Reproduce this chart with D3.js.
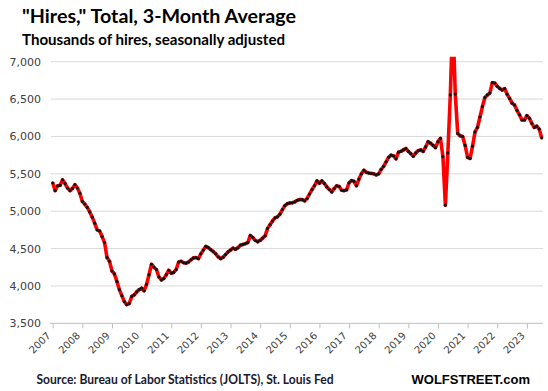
<!DOCTYPE html>
<html><head><meta charset="utf-8">
<script src="https://cdn.jsdelivr.net/npm/d3@7"></script>
<style>body{margin:0;background:#fff}svg{display:block}</style>
</head><body>
<svg id="c" width="548" height="391"></svg>
<script>
const titleText = '"Hires," Total, 3-Month Average';
const subtitleText = 'Thousands of hires, seasonally adjusted';
const sourceText = 'Source: Bureau of Labor Statistics (JOLTS), St. Louis Fed';
const brandText = 'WOLFSTREET.com';

const startMonth = new Date(2007, 0, 1);
const endMonth = new Date(2023, 6, 1);
const months = d3.timeMonth.range(startMonth, d3.timeMonth.offset(endMonth, 1));

const hires = [
5380,5275,5340,5345,5420,5370,5310,5275,5305,5355,
5310,5240,5130,5095,5050,4990,4920,4840,4750,4735,
4660,4580,4380,4330,4200,4160,4060,3950,3870,3790,
3750,3765,3860,3880,3920,3950,3970,3935,
4020,4150,4290,4250,4220,4120,4080,4100,4150,4210,
4170,4180,4220,4320,4330,4310,4305,4320,4350,4375,
4380,4365,4430,4480,4530,4512,4485,4460,4430,4390,
4365,4385,4420,4455,4480,4505,4490,4510,4545,
4555,4565,4580,4675,4650,4610,4590,4610,4640,4670,
4770,4820,4870,4910,4925,4960,5020,5075,5100,5110,
5112,5124,5145,5156,5155,5138,5170,5230,5290,5340,
5405,5375,5405,5370,5325,5290,5258,
5305,5340,5330,5280,5275,5285,5380,5410,5400,5340,
5430,5500,5548,5520,5510,5505,5500,5485,5500,5560,
5600,5660,5720,5750,5740,5700,5790,5800,5820,5839,
5800,5770,5735,5780,5810,5820,5800,5860,5930,5910,
5880,5850,5930,5975,
5730,5080,5780,6555,7600,6567,6040,6008,6000,5880,
5720,5705,5870,6060,6120,6260,6400,6520,6555,6580,
6719,6715,6670,6643,6621,6640,6565,6509,6445,6420,
6350,6290,6220,6219,6280,6245,6175,6120,6138,6098,
5980
];

const yTicks = [3500,4000,4500,5000,5500,6000,6500,7000];
const yearLabels = [2007,2008,2009,2010,2011,2012,2013,2014,2015,2016,2017,2018,2019,2020,2021,2022,2023];

const data = months.map((m,i)=>({m, v: hires[i]}));

const svg = d3.select('#c');
const plotL = 51, plotR = 543, plotT = 61.7, plotB = 323.3;

const y = d3.scaleLinear().domain([3500,7000]).range([plotB, plotT]);
const x = d3.scalePoint().domain(months.map(d=>+d)).range([52.7, 541.7]);

// gridlines
svg.append('g').selectAll('line').data(yTicks.filter(d=>d>3500)).join('line')
  .attr('x1', plotL).attr('x2', plotR)
  .attr('y1', d=>y(d)).attr('y2', d=>y(d))
  .attr('stroke', '#d9d9d9').attr('stroke-width', 1);

// y axis labels
const yAxis = svg.append('g').attr('transform', `translate(41,0)`)
  .call(d3.axisLeft(y).tickValues(yTicks).tickFormat(d3.format(',')).tickSize(0).tickPadding(0));
yAxis.select('.domain').remove();
yAxis.selectAll('text').attr('font-family','DejaVu Sans').attr('font-size', 11).attr('fill','#404040');

// x axis baseline
svg.append('line').attr('x1', plotL-1).attr('x2', plotR).attr('y1', plotB).attr('y2', plotB)
  .attr('stroke','#bfbfbf').attr('stroke-width',1);

const janTicks = yearLabels.map(yr => +new Date(yr, 0, 1));
const xAxis = svg.append('g').attr('transform', `translate(0,${plotB})`)
  .call(d3.axisBottom(x).tickValues(janTicks).tickFormat(d => new Date(d).getFullYear()).tickSize(5).tickPadding(2));
xAxis.select('.domain').remove();
xAxis.selectAll('.tick line').attr('stroke','#bfbfbf');
xAxis.selectAll('text')
  .attr('font-family','DejaVu Sans').attr('font-size', 10).attr('fill','#404040')
  .attr('text-anchor','end')
  .attr('dy', null).attr('y', null)
  .attr('transform','translate(-2,13) rotate(-45)');

// clip
svg.append('clipPath').attr('id','clip').append('rect')
  .attr('x', plotL-2).attr('y', plotT-5).attr('width', plotR-plotL+6).attr('height', plotB-plotT+10);

const line = d3.line().x(d=>x(+d.m)).y(d=>y(d.v));
const g = svg.append('g').attr('clip-path','url(#clip)');
g.append('path').datum(data).attr('d', line)
  .attr('fill','none').attr('stroke','#ff0000').attr('stroke-width',3.6)
  .attr('stroke-linejoin','round');
g.selectAll('circle').data(data).join('circle')
  .attr('cx', d=>x(+d.m)).attr('cy', d=>y(d.v)).attr('r',1.6).attr('fill','#111');

// titles
svg.append('text').attr('x',22).attr('y',23).text(titleText)
  .attr('font-family','Lato').attr('font-weight','bold').attr('font-size',19)
  .attr('textLength',274).attr('lengthAdjust','spacingAndGlyphs').attr('fill','#000');
svg.append('text').attr('x',22).attr('y',44.5).text(subtitleText)
  .attr('font-family','Lato').attr('font-weight','bold').attr('font-size',15)
  .attr('textLength',263).attr('lengthAdjust','spacingAndGlyphs').attr('fill','#000');
svg.append('text').attr('x',36.5).attr('y',384).text(sourceText)
  .attr('font-family','Lato').attr('font-weight','bold').attr('font-size',13)
  .attr('textLength',297).attr('lengthAdjust','spacingAndGlyphs').attr('fill','#1a1a2e');
svg.append('text').attr('x',411.5).attr('y',384).text(brandText)
  .attr('font-family','Liberation Sans').attr('font-weight','bold').attr('font-size',13)
  .attr('fill','#000');
</script>
</body></html>
